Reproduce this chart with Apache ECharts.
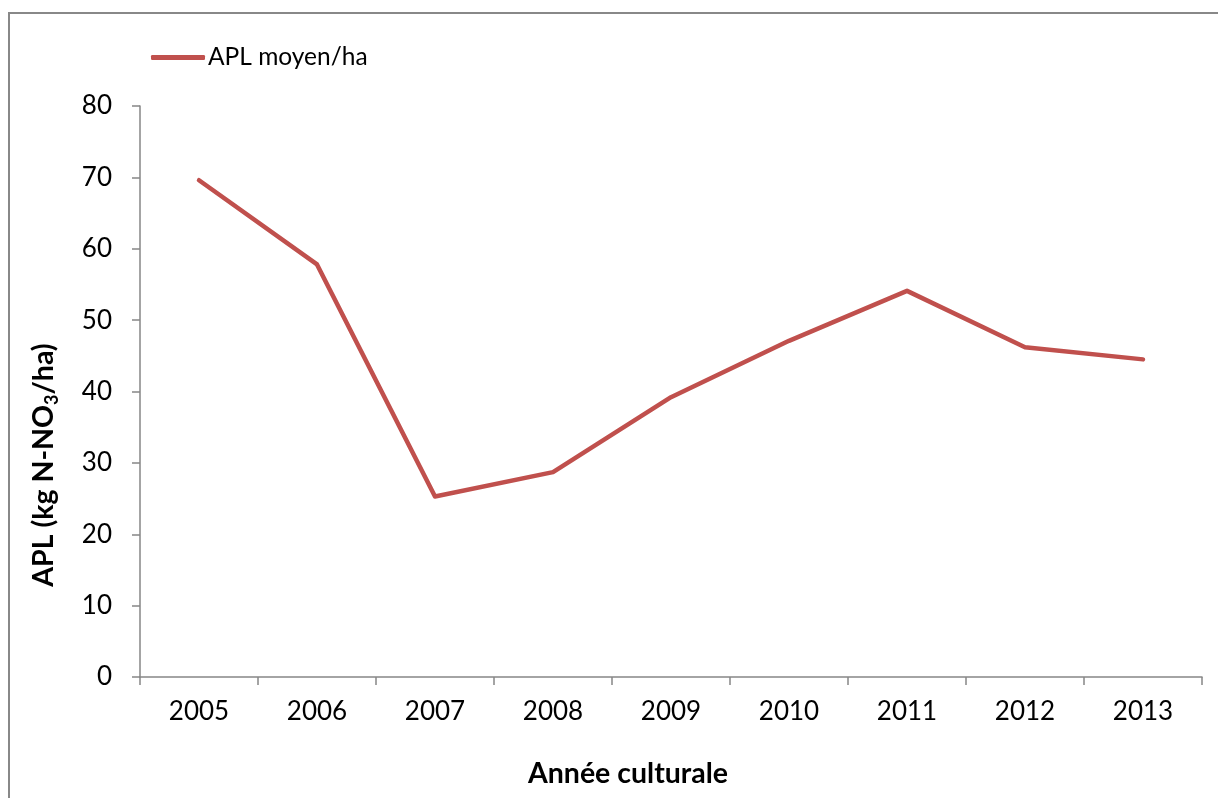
<!DOCTYPE html>
<html>
<head>
<meta charset="utf-8">
<script src="https://cdn.jsdelivr.net/npm/echarts@6/dist/echarts.min.js"></script>
<style>
  html, body { margin: 0; padding: 0; background: #fff; }
  #chart { width: 1218px; height: 798px; }
</style>
</head>
<body>
<div id="chart"></div>
<script>
// Campaign years and mean APL per hectare (kg N-NO3/ha)
const years = ['2005', '2006', '2007', '2008', '2009', '2010', '2011', '2012', '2013'];
const aplMoyen = [69.6, 57.8, 25.3, 28.7, 39.2, 47.1, 54.1, 46.2, 44.5];
const seriesName = 'APL moyen/ha';
const yTitle = ['APL (kg N-NO', '3', '/ha)'];
const xTitle = 'Année culturale';

const FONT = 'Lato, "Open Sans", sans-serif';
const AXIS_GREY = '#868686';

const chart = echarts.init(document.getElementById('chart'), null, { renderer: 'canvas' });

chart.setOption({
  backgroundColor: '#ffffff',
  animation: false,
  textStyle: { fontFamily: FONT },
  grid: { left: 140, top: 106, right: 16, bottom: 121, containLabel: false },
  legend: {
    left: 146, top: 40,
    icon: 'roundRect',
    itemWidth: 54, itemHeight: 5, itemGap: 4,
    textStyle: { fontFamily: FONT, fontSize: 24.5, color: '#000', padding: [0, 0, 0, -2] },
    data: [seriesName]
  },
  xAxis: {
    type: 'category',
    data: years,
    boundaryGap: true,
    axisLine: { lineStyle: { color: AXIS_GREY, width: 1.5 } },
    axisTick: { show: true, length: 8, lineStyle: { color: AXIS_GREY, width: 1.5 } },
    axisLabel: { color: '#000', fontSize: 26, fontFamily: FONT, margin: 22 },
    splitLine: { show: false }
  },
  yAxis: {
    type: 'value',
    min: 0, max: 80, interval: 10,
    axisLine: { show: true, lineStyle: { color: AXIS_GREY, width: 1.5 } },
    axisTick: { show: true, length: 8, lineStyle: { color: AXIS_GREY, width: 1.5 } },
    axisLabel: { color: '#000', fontSize: 26, fontFamily: FONT, margin: 28 },
    splitLine: { show: false }
  },
  series: [{
    name: seriesName,
    type: 'line',
    data: aplMoyen,
    symbol: 'none',
    smooth: false,
    itemStyle: { color: '#C0504D' },
    lineStyle: { color: '#C0504D', width: 4.5, cap: 'round', join: 'round' }
  }],
  graphic: [
    {
      type: 'rect',
      shape: { x: 9, y: 13, width: 1240, height: 820 },
      style: { fill: 'none', stroke: '#888888', lineWidth: 2 },
      silent: true, z: -1
    },
    {
      type: 'text',
      x: 44, y: 465,
      rotation: Math.PI / 2,
      style: {
        text: '{a|' + yTitle[0] + '}{s|' + yTitle[1] + '}{a|' + yTitle[2] + '}',
        align: 'center', verticalAlign: 'middle',
        rich: {
          a: { fontFamily: FONT, fontSize: 28.5, fontWeight: 'bold', fill: '#000', lineHeight: 34, verticalAlign: 'middle' },
          s: { fontFamily: FONT, fontSize: 18, fontWeight: 'bold', fill: '#000', lineHeight: 34, verticalAlign: 'bottom' }
        }
      }
    },
    {
      type: 'text',
      x: 628, y: 774,
      style: {
        text: xTitle,
        align: 'center', verticalAlign: 'middle',
        fontFamily: FONT, fontSize: 28.5, fontWeight: 'bold', fill: '#000'
      }
    }
  ]
});
</script>
</body>
</html>
